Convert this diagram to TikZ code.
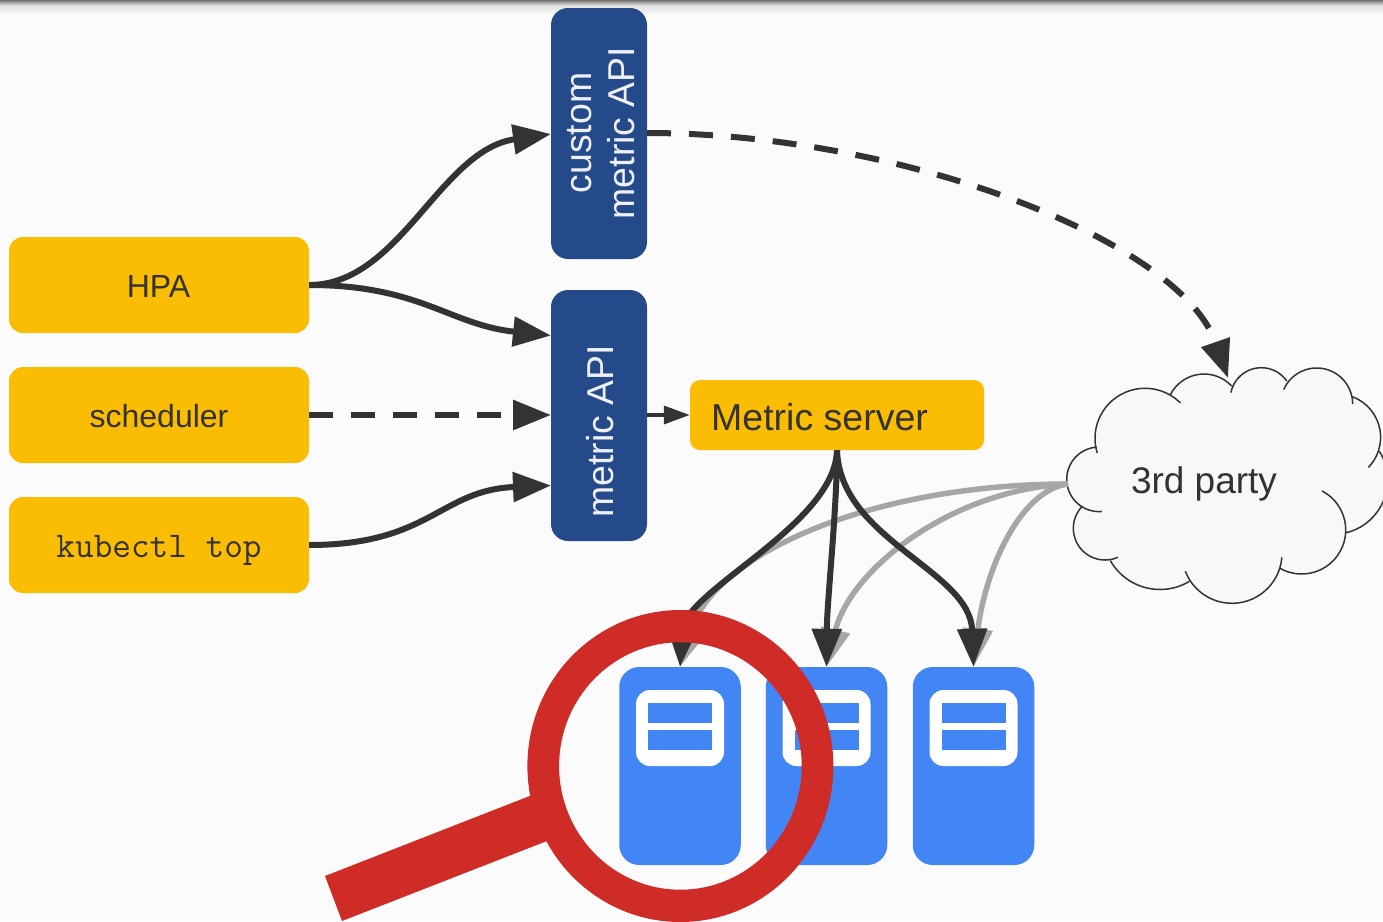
\documentclass[tikz,border=0pt]{standalone}
\usepackage{fontspec}
\setmainfont{Liberation Sans}
\usetikzlibrary{arrows.meta,calc}
\definecolor{bgc}{HTML}{FBFBFB}
\definecolor{amber}{HTML}{FBBC04}
\definecolor{navy}{HTML}{254A8A}
\definecolor{srv}{HTML}{4285F4}
\definecolor{lens}{HTML}{CF2C28}
\definecolor{ink}{HTML}{333333}
\definecolor{pale}{HTML}{A6A6A6}
\definecolor{puff}{HTML}{F8F8F8}
\newcommand{\puffarc}[5]{($(#1,#2)+(#4:#3pt)$) arc[start angle=#4,end angle=#5,radius=#3pt]}
\newcommand{\cloudlobes}[1]{
  \puffarc{1145}{438.3}{50}{197}{45} #1
  \puffarc{1204}{411.7}{37.7}{153}{43} #1
  \puffarc{1261.3}{398.7}{31}{168.6}{34.7} #1
  \puffarc{1316.7}{404}{36}{156.3}{0} #1
  \puffarc{1337.3}{437.3}{43.3}{69}{-44} #1
  \puffarc{1333.3}{480}{54.3}{32}{-77} #1
  \puffarc{1301.7}{530}{44}{62.6}{-119.5} #1
  \puffarc{1232}{553.3}{50}{-4.7}{-159} #1
  \puffarc{1160}{532.3}{57.2}{-59.3}{-150} #1
  \puffarc{1105}{528.3}{31.7}{-66}{-225} #1
  \puffarc{1099}{479.3}{32.3}{-85}{-266}
}
\tikzset{
  x=1pt,y=-1pt,
  ybox/.style={fill=amber,rounded corners=14pt,inner sep=0pt,minimum width=300pt,minimum height=96pt},
  apibox/.style={fill=navy,rounded corners=17pt,inner sep=0pt,minimum width=96pt,minimum height=251pt},
  srvbox/.style={fill=srv,rounded corners=20pt,inner sep=0pt,minimum width=121.5pt,minimum height=198pt},
  srvface/.style={fill=white,rounded corners=14pt,inner sep=0pt,minimum width=88pt,minimum height=76pt},
  srvbar/.style={fill=srv,inner sep=0pt,minimum width=64pt,minimum height=20pt},
  lbl/.style={text=ink,inner sep=0pt,anchor=base},
  vlbl/.style={text=white!92!navy,inner sep=0pt,rotate=90,align=center},
  flow/.style={draw=ink,line width=6pt,-{Triangle[length=38pt,width=29pt]}},
  backflow/.style={draw=pale,line width=5.5pt,-{Triangle[length=38pt,width=29pt,fill=pale]}},
  thin flow/.style={draw=ink,line width=3.5pt,-{Triangle[length=26pt,width=18pt]}},
  dashes/.style={dash pattern=on 24pt off 18pt}
}
\begin{document}
\begin{tikzpicture}
\useasboundingbox (0,0) rectangle (1383,921);
\fill[bgc] (0,0) rectangle (1383,921);
\shade[top color=black!55,bottom color=black!13] (0,0) rectangle (1383,5);
\shade[top color=black!13,bottom color=bgc] (0,5) rectangle (1383,15);

% boxes
\node[ybox] (hpa) at (159,285) {};
\node[ybox] (sched) at (159,415) {};
\node[ybox] (kctl) at (159,545) {};
\node[apibox] (custom) at (599,133.5) {};
\node[apibox] (metric) at (599,415.5) {};
\node[fill=amber,rounded corners=10pt,inner sep=0pt,minimum width=294pt,minimum height=70pt] (server) at (837,415) {};

\node[lbl,font=\fontsize{32}{32}\selectfont] (thpa) at (158.5,297) {HPA};
\node[lbl,font=\fontsize{32}{32}\selectfont] (tsched) at (159,427) {scheduler};
\node[lbl,font=\fontsize{36.2}{36}\selectfont\ttfamily] (tkctl) at (159,557) {kubectl top};
\node[lbl,anchor=base west,font=\fontsize{37.5}{38}\selectfont] (tserver) at (711,430) {Metric server};
\node[vlbl,font=\fontsize{37.4}{43}\selectfont] (tcustom) at (601,133) {custom\\metric API};
\node[vlbl,anchor=base,font=\fontsize{37.4}{43}\selectfont] (tmetric) at (613,431.5) {metric API};

% cloud
\fill[puff] \cloudlobes{--} -- cycle;
\draw[ink,line width=1.5pt] \cloudlobes{};
\node[lbl,font=\fontsize{37}{37}\selectfont] (tcloud) at (1204,493) {3rd party};
\coordinate (cloudw) at (1068,484);
\coordinate (cloudn) at (1228,378);

% anchors on the API boxes
\coordinate (customin) at (551,134);
\coordinate (customout) at (647,133);
\coordinate (metricA) at (551,335.5);
\coordinate (metricB) at (551,415);
\coordinate (metricC) at (551,485.5);
\coordinate (metricout) at (647,415);

% servers
\foreach \n/\x in {1/680,2/826.5,3/973.5}{
  \node[srvbox] (s\n) at (\x,766) {};
  \node[srvface] (f\n) at (\x,728) {};
  \node[srvbar] (a\n) at (\x,713) {};
  \node[srvbar] (b\n) at (\x,740) {};
}

% connectors
\draw[backflow] (cloudw) .. controls (880,484) and (715,550) .. (s1.north);
\draw[backflow] (cloudw) .. controls (950,490) and (850,570) .. (s2.north);
\draw[backflow] (cloudw) .. controls (1020,490) and (985,570) .. (s3.north);

\draw[flow] (hpa.east) .. controls (400,285) and (440,150) .. (customin);
\draw[flow] (hpa.east) .. controls (420,285) and (450,325) .. (metricA);
\draw[flow,dashes] (sched.east) -- (metricB);
\draw[flow] (kctl.east) .. controls (430,545) and (440,490) .. (metricC);
\draw[thin flow] (metricout) -- (server.west);
\draw[flow,dashes] (customout) .. controls (900,133) and (1180,240) .. (cloudn);

\draw[flow] (server.south) .. controls (835,525) and (685,590) .. (s1.north);
\draw[flow] (server.south) .. controls (837,510) and (827,600) .. (s2.north);
\draw[flow] (server.south) .. controls (840,540) and (970,570) .. (s3.north);

% magnifier
\fill[lens,even odd rule] (680.4,766) ellipse [x radius=153,y radius=156] (680.4,766) ellipse [x radius=121.3,y radius=123.7];
\fill[lens] (325,876) -- (342,921) -- (570,832) -- (545,790) -- cycle;
\end{tikzpicture}
\end{document}
